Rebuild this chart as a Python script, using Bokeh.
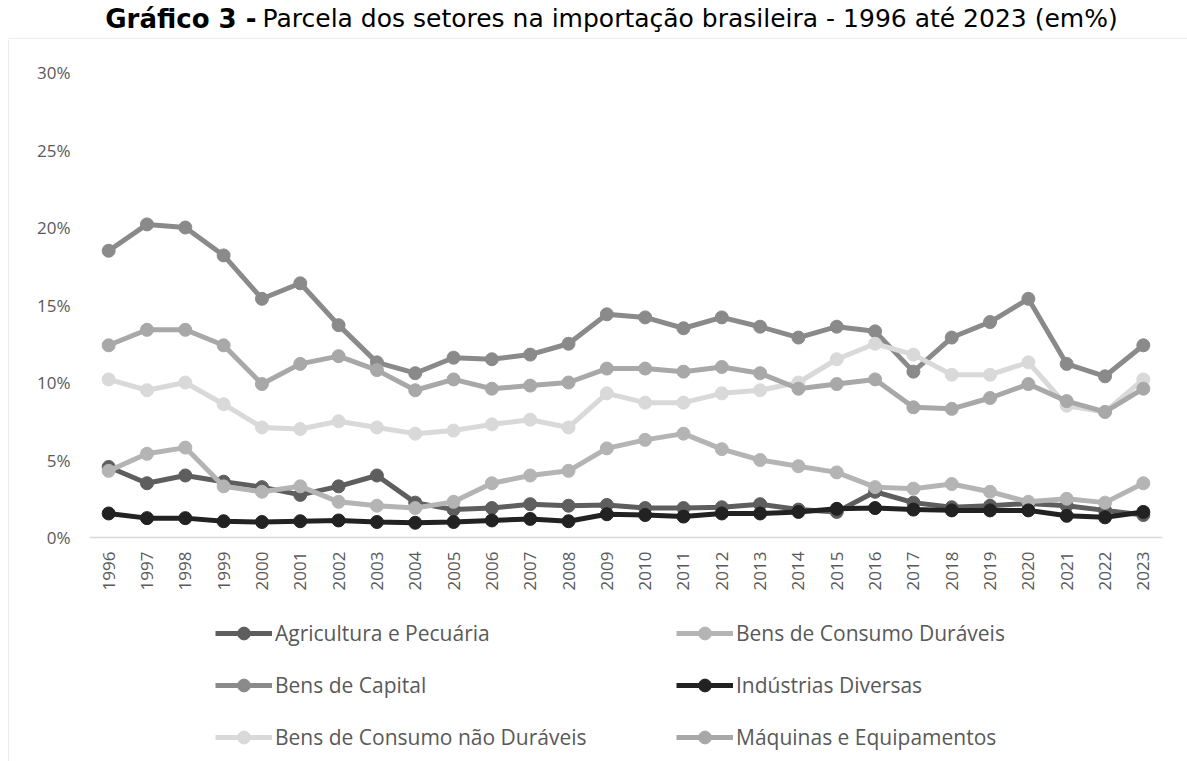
import math
from bokeh.plotting import figure
from bokeh.layouts import column, row
from bokeh.models import (ColumnDataSource, FactorRange, Range1d, Legend, LegendItem,
                          PrintfTickFormatter, FixedTicker)
from bokeh.core.properties import value
from bokeh.embed import file_html
from bokeh.resources import INLINE

years = ["1996", "1997", "1998", "1999", "2000", "2001", "2002", "2003", "2004", "2005",
         "2006", "2007", "2008", "2009", "2010", "2011", "2012", "2013", "2014", "2015",
         "2016", "2017", "2018", "2019", "2020", "2021", "2022", "2023"]

agricultura = [4.55, 3.5, 4.0, 3.6, 3.25, 2.75, 3.3, 4.0, 2.25, 1.8, 1.9, 2.15, 2.05, 2.1,
               1.9, 1.9, 1.95, 2.15, 1.8, 1.65, 2.95, 2.25, 1.95, 2.05, 2.2, 2.05, 1.75, 1.45]
consumo_duraveis = [4.3, 5.4, 5.8, 3.3, 2.95, 3.3, 2.3, 2.05, 1.9, 2.3, 3.5, 4.0, 4.3, 5.75,
                    6.3, 6.7, 5.7, 5.0, 4.6, 4.2, 3.25, 3.15, 3.45, 2.95, 2.3, 2.5, 2.25, 3.5]
capital = [18.5, 20.2, 20.0, 18.2, 15.4, 16.4, 13.7, 11.3, 10.6, 11.6, 11.5, 11.8, 12.5, 14.4,
           14.2, 13.5, 14.2, 13.6, 12.9, 13.6, 13.3, 10.7, 12.9, 13.9, 15.4, 11.2, 10.4, 12.4]
industrias = [1.55, 1.25, 1.25, 1.05, 1.0, 1.05, 1.1, 1.0, 0.95, 1.0, 1.1, 1.2, 1.05, 1.5,
              1.45, 1.35, 1.55, 1.55, 1.65, 1.85, 1.9, 1.8, 1.75, 1.75, 1.75, 1.4, 1.3, 1.65]
consumo_nao_duraveis = [10.2, 9.5, 10.0, 8.6, 7.1, 7.0, 7.5, 7.1, 6.7, 6.9, 7.3, 7.6, 7.1, 9.3,
                        8.7, 8.7, 9.3, 9.5, 10.0, 11.5, 12.5, 11.8, 10.5, 10.5, 11.3, 8.5, 8.1, 10.2]
maquinas = [12.4, 13.4, 13.4, 12.4, 9.9, 11.2, 11.7, 10.8, 9.5, 10.2, 9.6, 9.8, 10.0, 10.9,
            10.9, 10.7, 11.0, 10.6, 9.6, 9.9, 10.2, 8.4, 8.3, 9.0, 9.9, 8.8, 8.1, 9.6]

series_names = ["Agricultura e Pecuária", "Bens de Consumo Duráveis", "Bens de Capital",
                "Indústrias Diversas", "Bens de Consumo não Duráveis", "Máquinas e Equipamentos"]
series_values = [agricultura, consumo_duraveis, capital, industrias, consumo_nao_duraveis, maquinas]
series_colors = ["#5e5e5e", "#b4b4b4", "#8a8a8a", "#222222", "#d9d9d9", "#a8a8a8"]

y_ticks = [0, 5, 10, 15, 20, 25, 30]

title_bold = "Gráfico 3 -"
title_rest = "Parcela dos setores na importação brasileira - 1996 até 2023 (em%)"

TXT = "#595959"
FONT = "Open Sans"
TITLE_FONT = "DejaVu Sans"
BORDER = "#d9d9d9"


def bare(w, h, xr, yr):
    f = figure(width=w, height=h, output_backend="svg", toolbar_location=None,
               x_range=xr, y_range=yr, x_axis_location=None, y_axis_location=None,
               min_border_left=0, min_border_right=0, min_border_top=0, min_border_bottom=0)
    f.grid.visible = False
    f.outline_line_color = None
    return f


# ---- title strip (with the top edge of the chart box) ----
t = bare(1187, 39, Range1d(0, 1187), Range1d(39, 0))
t.text(x=[256], y=[18], text=[title_bold], text_align="right", text_baseline="middle",
       text_font=value(TITLE_FONT), text_font_style="bold", text_font_size="26px",
       text_color="black")
t.text(x=[262], y=[18], text=[title_rest], text_align="left", text_baseline="middle",
       text_font=value(TITLE_FONT), text_font_size="25px", text_color="black")
t.segment(x0=[8], y0=[38.5], x1=[1187], y1=[38.5], line_color=BORDER, line_width=1)

# ---- left edge of the chart box ----
s = bare(9, 722, Range1d(0, 9), Range1d(722, 0))
s.segment(x0=[8.5], y0=[0], x1=[8.5], y1=[722], line_color=BORDER, line_width=1)

# ---- main chart ----
p = figure(width=1178, height=560, output_backend="svg", toolbar_location=None,
           x_range=FactorRange(*years, range_padding=0), y_range=Range1d(0, 30),
           min_border_left=80, min_border_right=25, min_border_top=33, min_border_bottom=62)
p.outline_line_color = None
p.xgrid.visible = False
p.ygrid.visible = False

src = ColumnDataSource(dict(year=years, **{f"s{i}": v for i, v in enumerate(series_values)}))
for i, color in enumerate(series_colors):
    p.line("year", f"s{i}", source=src, line_color=color, line_width=5)
    p.scatter("year", f"s{i}", source=src, size=13, fill_color=color, line_color=color)

xa = p.xaxis[0]
xa.major_label_orientation = math.pi / 2
xa.major_label_text_font = FONT
xa.major_label_text_font_size = "17px"
xa.major_label_text_color = TXT
xa.axis_line_color = BORDER
xa.axis_line_width = 1.5
xa.major_tick_line_color = None
xa.minor_tick_line_color = None
xa.major_tick_out = 0
xa.major_label_standoff = 14

ya = p.yaxis[0]
ya.ticker = FixedTicker(ticks=y_ticks)
ya.formatter = PrintfTickFormatter(format="%d%%")
ya.axis_line_color = None
ya.major_tick_line_color = None
ya.minor_tick_line_color = None
ya.major_tick_out = 0
ya.major_label_standoff = 19
ya.major_label_text_font = FONT
ya.major_label_text_font_size = "17px"
ya.major_label_text_color = TXT

# ---- legend strip (proxy glyphs sit outside the visible range) ----
lg = bare(1178, 162, Range1d(0, 1), Range1d(0, 1))
items = []
for name, color in zip(series_names, series_colors):
    lr = lg.line(x=[-3, -2], y=[-3, -2], line_color=color, line_width=5)
    sr = lg.scatter(x=[-3], y=[-3], size=13, fill_color=color, line_color=color)
    items.append(LegendItem(label=name, renderers=[lr, sr]))

common = dict(orientation="vertical", glyph_width=57, glyph_height=32, label_height=32,
              spacing=20, label_standoff=3, padding=0, margin=0,
              label_text_font=FONT, label_text_font_size="21px", label_text_color=TXT,
              border_line_alpha=0, background_fill_alpha=0)
lg.add_layout(Legend(items=items[0::2], location=(126, 8), **common), "center")
lg.add_layout(Legend(items=items[1::2], location=(587, 8), **common), "center")

layout = column(t, row(s, column(p, lg, spacing=0), spacing=0), spacing=0)
open("out.html", "w").write(file_html(layout, INLINE))
